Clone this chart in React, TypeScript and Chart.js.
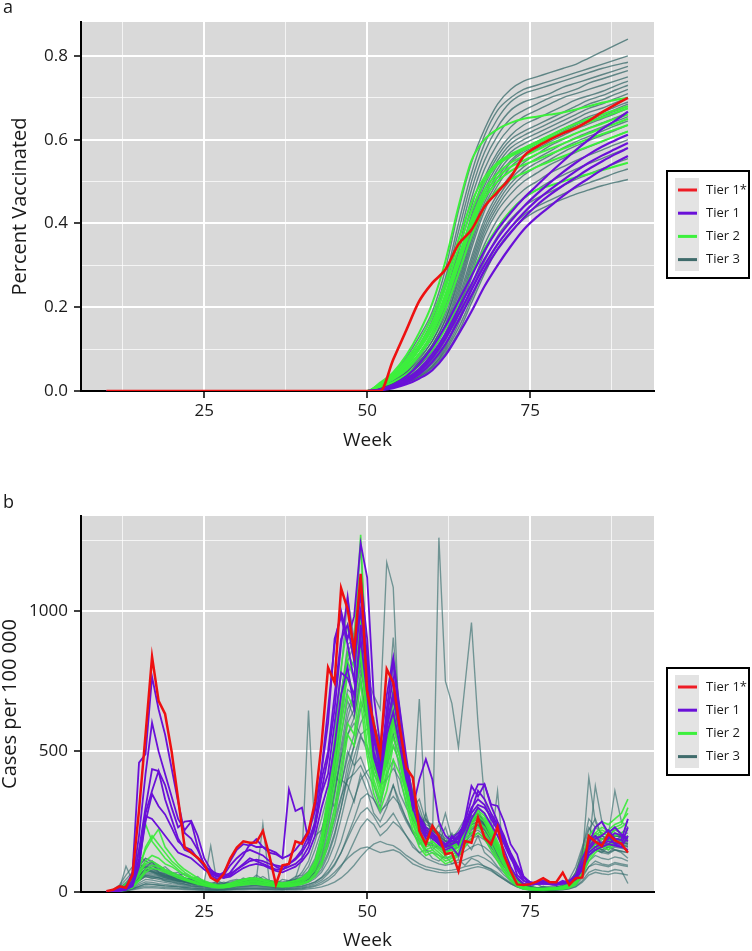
import React, { useEffect, useRef } from "react";
import { Chart, registerables } from "chart.js";

Chart.register(...registerables);

const FONT = "'Open Sans', 'Noto Sans', 'DejaVu Sans', sans-serif";
const INK = "#1a1a1a";
const PANEL_BG = "#d9d9d9";

// ---------- axes ----------
const xMin = 6.1;
const xMax = 94.0;
const xTicks = [12.5, 25, 37.5, 50, 62.5, 75, 87.5];
const xTickLabels = ["", "25", "", "50", "", "75", ""];

const yTicksA = [0, 0.1, 0.2, 0.3, 0.4, 0.5, 0.6, 0.7, 0.8];
const yTickLabelsA = ["0.0", "", "0.2", "", "0.4", "", "0.6", "", "0.8"];
const yMaxA = 0.881;

const yTicksB = [0, 250, 500, 750, 1000, 1250];
const yTickLabelsB = ["0", "", "500", "", "1000", ""];
const yMaxB = 1337;

const legendLabels = ["Tier 1*", "Tier 1", "Tier 2", "Tier 3"];
const legendColors = ["#ee1c25", "#6a10d8", "#3cf03c", "#3f6b6b"];

// ---------- panel a : percent vaccinated ----------
const weeksA = [10, 50, 52, 54, 56, 58, 60, 62, 64, 66, 68, 70, 72, 74, 76, 78, 80, 82, 84, 86, 88, 90];

const tier1sA = [
  [0, 0, 0, 0.075, 0.145, 0.215, 0.258, 0.29, 0.35, 0.385, 0.44, 0.475, 0.51, 0.56, 0.583, 0.6, 0.615, 0.628, 0.645, 0.665, 0.683, 0.7],
];

const tier1A = [
  [0, 0, 0.004, 0.015, 0.035, 0.065, 0.105, 0.155, 0.215, 0.275, 0.335, 0.385, 0.425, 0.46, 0.49, 0.52, 0.548, 0.575, 0.6, 0.625, 0.645, 0.667],
  [0, 0, 0.003, 0.012, 0.028, 0.052, 0.088, 0.135, 0.195, 0.255, 0.315, 0.365, 0.405, 0.44, 0.47, 0.497, 0.522, 0.545, 0.565, 0.583, 0.598, 0.612],
  [0, 0, 0.003, 0.01, 0.024, 0.046, 0.08, 0.125, 0.182, 0.242, 0.3, 0.35, 0.39, 0.425, 0.455, 0.48, 0.503, 0.525, 0.545, 0.562, 0.577, 0.592],
  [0, 0, 0.002, 0.009, 0.02, 0.04, 0.07, 0.112, 0.168, 0.228, 0.288, 0.338, 0.378, 0.413, 0.443, 0.468, 0.49, 0.51, 0.53, 0.548, 0.565, 0.58],
  [0, 0, 0.002, 0.007, 0.016, 0.03, 0.05, 0.085, 0.135, 0.19, 0.25, 0.3, 0.345, 0.385, 0.415, 0.44, 0.465, 0.488, 0.508, 0.528, 0.545, 0.561],
];

const tier2A = [
  [0, 0, 0.02, 0.045, 0.085, 0.14, 0.21, 0.31, 0.44, 0.55, 0.6, 0.625, 0.64, 0.65, 0.655, 0.66, 0.665, 0.672, 0.68, 0.688, 0.695, 0.7],
  [0, 0, 0.018, 0.04, 0.075, 0.12, 0.18, 0.26, 0.36, 0.45, 0.51, 0.545, 0.565, 0.58, 0.595, 0.61, 0.625, 0.638, 0.65, 0.66, 0.67, 0.68],
  [0, 0, 0.018, 0.04, 0.07, 0.11, 0.165, 0.245, 0.34, 0.43, 0.5, 0.54, 0.56, 0.575, 0.59, 0.605, 0.618, 0.63, 0.642, 0.653, 0.664, 0.675],
  [0, 0, 0.016, 0.035, 0.065, 0.105, 0.155, 0.23, 0.32, 0.41, 0.48, 0.52, 0.545, 0.56, 0.575, 0.59, 0.602, 0.615, 0.627, 0.638, 0.65, 0.66],
  [0, 0, 0.015, 0.033, 0.06, 0.1, 0.15, 0.22, 0.31, 0.4, 0.47, 0.51, 0.535, 0.55, 0.565, 0.578, 0.59, 0.603, 0.615, 0.627, 0.638, 0.65],
  [0, 0, 0.014, 0.03, 0.055, 0.09, 0.14, 0.21, 0.3, 0.39, 0.46, 0.5, 0.525, 0.54, 0.552, 0.565, 0.578, 0.59, 0.602, 0.613, 0.624, 0.635],
  [0, 0, 0.012, 0.028, 0.05, 0.085, 0.13, 0.195, 0.28, 0.37, 0.44, 0.48, 0.505, 0.52, 0.535, 0.548, 0.56, 0.572, 0.584, 0.596, 0.608, 0.62],
  [0, 0, 0.01, 0.022, 0.04, 0.065, 0.1, 0.15, 0.21, 0.28, 0.34, 0.39, 0.43, 0.46, 0.48, 0.49, 0.5, 0.51, 0.518, 0.527, 0.536, 0.545],
];

const tier3A = [
  [0, 0, 0.015, 0.04, 0.08, 0.13, 0.19, 0.29, 0.43, 0.545, 0.625, 0.685, 0.72, 0.74, 0.75, 0.76, 0.77, 0.78, 0.795, 0.81, 0.825, 0.84],
  [0, 0, 0.015, 0.035, 0.07, 0.12, 0.18, 0.27, 0.4, 0.52, 0.61, 0.67, 0.7, 0.72, 0.73, 0.74, 0.75, 0.76, 0.77, 0.78, 0.79, 0.8],
  [0, 0, 0.012, 0.03, 0.065, 0.11, 0.17, 0.26, 0.38, 0.5, 0.59, 0.65, 0.69, 0.71, 0.72, 0.73, 0.74, 0.75, 0.76, 0.77, 0.778, 0.785],
  [0, 0, 0.012, 0.03, 0.06, 0.1, 0.16, 0.25, 0.36, 0.48, 0.57, 0.63, 0.67, 0.69, 0.7, 0.71, 0.725, 0.735, 0.745, 0.755, 0.765, 0.775],
  [0, 0, 0.01, 0.03, 0.06, 0.1, 0.15, 0.23, 0.34, 0.46, 0.55, 0.61, 0.65, 0.67, 0.685, 0.7, 0.71, 0.72, 0.735, 0.745, 0.755, 0.765],
  [0, 0, 0.01, 0.028, 0.055, 0.09, 0.14, 0.22, 0.33, 0.44, 0.53, 0.59, 0.63, 0.655, 0.67, 0.685, 0.7, 0.71, 0.72, 0.73, 0.74, 0.75],
  [0, 0, 0.01, 0.025, 0.05, 0.085, 0.13, 0.21, 0.31, 0.42, 0.51, 0.57, 0.61, 0.635, 0.65, 0.665, 0.68, 0.695, 0.705, 0.715, 0.728, 0.74],
  [0, 0, 0.01, 0.025, 0.05, 0.085, 0.13, 0.2, 0.3, 0.41, 0.5, 0.56, 0.6, 0.62, 0.635, 0.65, 0.665, 0.68, 0.695, 0.705, 0.718, 0.73],
  [0, 0, 0.01, 0.022, 0.045, 0.08, 0.12, 0.19, 0.29, 0.4, 0.49, 0.55, 0.59, 0.61, 0.625, 0.64, 0.655, 0.67, 0.685, 0.695, 0.708, 0.72],
  [0, 0, 0.01, 0.022, 0.045, 0.075, 0.12, 0.18, 0.28, 0.39, 0.48, 0.54, 0.58, 0.6, 0.615, 0.63, 0.645, 0.66, 0.675, 0.685, 0.698, 0.71],
  [0, 0, 0.008, 0.02, 0.04, 0.07, 0.11, 0.17, 0.27, 0.38, 0.47, 0.53, 0.57, 0.59, 0.605, 0.62, 0.635, 0.65, 0.665, 0.675, 0.688, 0.7],
  [0, 0, 0.008, 0.02, 0.04, 0.07, 0.11, 0.17, 0.26, 0.37, 0.46, 0.52, 0.56, 0.58, 0.595, 0.61, 0.625, 0.64, 0.655, 0.665, 0.678, 0.69],
  [0, 0, 0.008, 0.02, 0.038, 0.065, 0.1, 0.16, 0.25, 0.36, 0.45, 0.51, 0.55, 0.575, 0.59, 0.605, 0.62, 0.635, 0.648, 0.66, 0.672, 0.685],
  [0, 0, 0.008, 0.018, 0.036, 0.062, 0.1, 0.155, 0.24, 0.35, 0.44, 0.5, 0.545, 0.57, 0.585, 0.6, 0.615, 0.63, 0.643, 0.655, 0.668, 0.68],
  [0, 0, 0.008, 0.018, 0.035, 0.06, 0.095, 0.15, 0.23, 0.34, 0.43, 0.49, 0.535, 0.56, 0.578, 0.595, 0.61, 0.625, 0.638, 0.65, 0.662, 0.675],
  [0, 0, 0.007, 0.016, 0.032, 0.055, 0.09, 0.14, 0.22, 0.32, 0.41, 0.47, 0.515, 0.545, 0.565, 0.585, 0.6, 0.615, 0.628, 0.64, 0.652, 0.665],
  [0, 0, 0.007, 0.016, 0.03, 0.052, 0.085, 0.135, 0.21, 0.31, 0.4, 0.46, 0.505, 0.535, 0.555, 0.572, 0.59, 0.605, 0.618, 0.63, 0.643, 0.655],
  [0, 0, 0.006, 0.015, 0.03, 0.05, 0.08, 0.13, 0.2, 0.3, 0.39, 0.45, 0.495, 0.525, 0.545, 0.562, 0.58, 0.595, 0.608, 0.62, 0.633, 0.645],
  [0, 0, 0.006, 0.015, 0.028, 0.048, 0.078, 0.125, 0.195, 0.29, 0.38, 0.44, 0.485, 0.515, 0.535, 0.552, 0.57, 0.585, 0.598, 0.61, 0.622, 0.635],
  [0, 0, 0.006, 0.014, 0.027, 0.045, 0.075, 0.12, 0.19, 0.28, 0.37, 0.43, 0.47, 0.5, 0.52, 0.54, 0.555, 0.57, 0.583, 0.595, 0.608, 0.62],
  [0, 0, 0.005, 0.013, 0.025, 0.042, 0.07, 0.11, 0.18, 0.27, 0.35, 0.41, 0.45, 0.48, 0.5, 0.52, 0.535, 0.55, 0.563, 0.575, 0.588, 0.6],
  [0, 0, 0.005, 0.012, 0.024, 0.04, 0.065, 0.105, 0.17, 0.25, 0.33, 0.39, 0.43, 0.46, 0.48, 0.5, 0.515, 0.53, 0.543, 0.555, 0.568, 0.58],
  [0, 0, 0.005, 0.012, 0.022, 0.038, 0.06, 0.1, 0.16, 0.24, 0.31, 0.37, 0.41, 0.44, 0.46, 0.475, 0.49, 0.505, 0.518, 0.53, 0.543, 0.555],
  [0, 0, 0.004, 0.01, 0.02, 0.035, 0.058, 0.095, 0.15, 0.22, 0.29, 0.35, 0.39, 0.42, 0.44, 0.455, 0.47, 0.485, 0.497, 0.508, 0.52, 0.53],
  [0, 0, 0.004, 0.01, 0.02, 0.033, 0.055, 0.09, 0.14, 0.21, 0.28, 0.34, 0.38, 0.41, 0.43, 0.445, 0.458, 0.47, 0.48, 0.49, 0.498, 0.505],
];

// ---------- panel b : cases per 100 000 ----------
const weeksB = [
  10, 11, 12, 13, 14, 15, 16, 17, 18, 19,
  20, 21, 22, 23, 24, 25, 26, 27, 28, 29,
  30, 31, 32, 33, 34, 35, 36, 37, 38, 39,
  40, 41, 42, 43, 44, 45, 46, 47, 48, 49,
  50, 51, 52, 53, 54, 55, 56, 57, 58, 59,
  60, 61, 62, 63, 64, 65, 66, 67, 68, 69,
  70, 71, 72, 73, 74, 75, 76, 77, 78, 79,
  80, 81, 82, 83, 84, 85, 86, 87, 88, 89,
  90,
];

const tier1sB = [
  [
    3, 8, 20, 15, 62, 290, 560, 836, 680, 633,
    500, 330, 160, 140, 122, 99, 51, 38, 65, 120,
    158, 180, 175, 176, 217, 130, 27, 95, 100, 180,
    172, 215, 320, 525, 798, 745, 1080, 1006, 855, 1131,
    715, 597, 490, 792, 745, 585, 442, 407, 217, 170,
    235, 199, 134, 140, 75, 181, 175, 264, 193, 170,
    232, 130, 75, 27, 25, 28, 37, 49, 35, 35,
    69, 25, 49, 52, 199, 179, 164, 207, 184, 172,
    140,
  ],
];

const tier1B = [
  [
    2, 5, 10, 20, 70, 460, 490, 765, 650, 560,
    440, 320, 210, 190, 150, 100, 60, 45, 60, 95,
    120, 140, 150, 140, 130, 110, 90, 80, 100, 120,
    150, 200, 300, 430, 600, 900, 980, 880, 750, 1120,
    900, 560, 430, 650, 820, 600, 420, 300, 230, 190,
    200, 170, 150, 160, 130, 200, 260, 300, 280, 240,
    200, 150, 90, 50, 30, 25, 30, 35, 30, 28,
    40, 30, 50, 80, 180, 200, 170, 190, 210, 200,
    180,
  ],
  [
    0, 4, 8, 15, 40, 200, 420, 602, 500, 420,
    340, 260, 220, 250, 160, 90, 70, 55, 70, 110,
    150, 170, 165, 188, 160, 150, 140, 120, 130, 150,
    180, 220, 290, 437, 650, 880, 1000, 900, 980, 1240,
    1118, 700, 520, 700, 834, 650, 480, 330, 250, 200,
    210, 180, 160, 200, 170, 250, 330, 383, 383, 306,
    250, 200, 134, 60, 40, 30, 35, 40, 35, 30,
    35, 40, 60, 120, 170, 230, 250, 210, 230, 205,
    190,
  ],
  [
    0, 3, 6, 12, 30, 150, 300, 437, 430, 380,
    300, 230, 250, 253, 200, 120, 80, 60, 50, 70,
    100, 130, 170, 160, 160, 140, 134, 120, 365, 288,
    300, 180, 250, 400, 500, 700, 900, 950, 820, 1000,
    800, 540, 450, 600, 700, 560, 430, 300, 400, 472,
    400, 250, 200, 180, 190, 260, 377, 340, 383, 312,
    306, 250, 170, 134, 53, 30, 30, 30, 28, 25,
    30, 35, 50, 100, 150, 180, 160, 200, 170, 160,
    200,
  ],
  [
    0, 2, 5, 10, 25, 100, 250, 348, 305, 276,
    230, 180, 160, 150, 120, 90, 70, 60, 55, 60,
    80, 100, 120, 110, 100, 90, 80, 80, 90, 100,
    120, 160, 230, 350, 420, 600, 780, 760, 700, 900,
    700, 480, 400, 560, 640, 520, 400, 320, 260, 220,
    200, 180, 170, 190, 210, 240, 300, 330, 310, 260,
    220, 170, 120, 80, 40, 30, 28, 30, 30, 28,
    30, 32, 45, 90, 140, 160, 170, 180, 175, 170,
    230,
  ],
  [
    0, 2, 4, 8, 20, 90, 270, 260, 230, 200,
    170, 140, 130, 120, 100, 80, 65, 55, 50, 55,
    70, 85, 95, 100, 95, 85, 75, 70, 80, 90,
    110, 140, 200, 300, 380, 520, 700, 800, 650, 950,
    760, 500, 420, 580, 700, 560, 420, 330, 260, 210,
    190, 170, 160, 170, 180, 220, 280, 310, 300, 270,
    230, 180, 130, 90, 50, 35, 30, 30, 30, 30,
    32, 35, 45, 80, 130, 150, 160, 170, 165, 160,
    150,
  ],
  [
    0, 2, 4, 8, 25, 120, 280, 360, 430, 330,
    260, 190, 150, 140, 120, 95, 75, 65, 60, 65,
    80, 95, 110, 115, 110, 100, 95, 90, 100, 115,
    140, 180, 240, 360, 480, 650, 880, 1050, 850, 1060,
    840, 560, 460, 620, 760, 580, 430, 340, 270, 230,
    210, 190, 170, 180, 200, 230, 290, 360, 330, 280,
    240, 190, 140, 95, 55, 35, 30, 32, 30, 30,
    35, 38, 55, 95, 160, 190, 200, 220, 190, 185,
    260,
  ],
];

const tier2B = [
  [
    0, 3, 10, 30, 60, 150, 241, 180, 150, 120,
    100, 80, 60, 50, 40, 30, 25, 20, 25, 30,
    40, 45, 50, 48, 40, 35, 30, 30, 35, 40,
    50, 70, 110, 200, 350, 550, 800, 950, 880, 1270,
    750, 500, 400, 520, 650, 560, 420, 300, 220, 180,
    200, 170, 150, 160, 180, 220, 260, 300, 280, 230,
    180, 130, 80, 40, 20, 15, 12, 12, 15, 15,
    20, 30, 60, 120, 200, 230, 250, 240, 260, 280,
    330,
  ],
  [
    0, 2, 8, 20, 40, 90, 150, 190, 223, 160,
    130, 100, 80, 65, 50, 40, 30, 25, 25, 30,
    35, 40, 45, 45, 40, 35, 30, 28, 30, 35,
    45, 60, 100, 180, 320, 500, 700, 850, 800, 1000,
    700, 480, 380, 500, 620, 540, 400, 290, 210, 170,
    180, 160, 140, 150, 170, 210, 250, 290, 270, 220,
    170, 120, 70, 35, 18, 14, 12, 12, 12, 14,
    18, 25, 50, 100, 170, 210, 230, 220, 240, 250,
    280,
  ],
  [
    0, 2, 6, 15, 30, 70, 110, 130, 120, 100,
    90, 75, 60, 50, 40, 30, 25, 20, 20, 25,
    30, 35, 40, 40, 35, 30, 28, 25, 28, 30,
    40, 55, 90, 160, 280, 420, 600, 780, 700, 900,
    620, 430, 350, 460, 580, 500, 370, 270, 200, 160,
    170, 150, 130, 140, 160, 200, 240, 270, 250, 200,
    150, 100, 60, 30, 15, 12, 10, 10, 10, 12,
    15, 20, 40, 90, 150, 190, 210, 200, 220, 230,
    250,
  ],
  [
    0, 2, 5, 12, 25, 60, 100, 110, 95, 80,
    70, 60, 50, 40, 35, 28, 22, 18, 18, 22,
    28, 32, 36, 36, 32, 28, 25, 22, 25, 28,
    35, 50, 80, 140, 240, 380, 560, 700, 650, 850,
    580, 400, 330, 430, 550, 480, 350, 250, 190, 150,
    160, 140, 120, 130, 150, 190, 230, 250, 230, 190,
    140, 95, 55, 28, 14, 10, 9, 9, 10, 11,
    14, 18, 35, 80, 140, 170, 190, 180, 200, 210,
    220,
  ],
  [
    0, 1, 4, 10, 20, 45, 80, 95, 90, 75,
    65, 55, 45, 38, 30, 25, 20, 16, 16, 20,
    25, 28, 32, 32, 28, 25, 22, 20, 22, 25,
    30, 40, 65, 110, 190, 300, 450, 600, 560, 750,
    520, 380, 320, 400, 520, 460, 340, 240, 180, 140,
    150, 130, 110, 120, 140, 180, 210, 230, 210, 170,
    120, 80, 45, 22, 12, 9, 8, 8, 9, 10,
    12, 16, 30, 70, 120, 150, 170, 160, 180, 190,
    200,
  ],
  [
    0, 2, 6, 14, 28, 80, 160, 200, 170, 140,
    110, 90, 70, 55, 45, 35, 28, 22, 22, 28,
    35, 40, 48, 50, 45, 40, 35, 32, 35, 40,
    48, 65, 100, 170, 300, 460, 650, 820, 760, 950,
    660, 460, 370, 480, 600, 520, 390, 280, 210, 170,
    180, 160, 140, 150, 170, 210, 250, 280, 260, 210,
    160, 110, 65, 32, 16, 12, 11, 11, 12, 13,
    16, 22, 45, 95, 160, 200, 220, 210, 230, 240,
    300,
  ],
  [
    0, 1, 3, 8, 15, 40, 70, 85, 80, 70,
    60, 50, 42, 35, 28, 22, 18, 15, 15, 18,
    22, 25, 28, 28, 25, 22, 20, 18, 20, 22,
    28, 36, 55, 95, 170, 270, 400, 560, 520, 680,
    480, 350, 290, 360, 470, 420, 310, 220, 160, 130,
    140, 120, 100, 110, 130, 160, 190, 210, 190, 150,
    110, 70, 40, 20, 10, 8, 7, 7, 8, 9,
    10, 14, 25, 60, 110, 140, 160, 150, 170, 180,
    190,
  ],
];

const tier3B = [
  [
    0, 5, 15, 30, 50, 90, 120, 110, 95, 80,
    70, 60, 50, 45, 40, 35, 164, 28, 30, 35,
    40, 45, 50, 50, 45, 40, 38, 36, 40, 45,
    55, 75, 120, 200, 330, 500, 700, 850, 900, 1230,
    800, 560, 450, 600, 800, 650, 450, 320, 240, 190,
    200, 180, 160, 170, 190, 230, 260, 280, 250, 200,
    150, 110, 70, 40, 20, 15, 12, 12, 14, 15,
    20, 30, 70, 150, 260, 230, 210, 200, 220, 210,
    230,
  ],
  [
    0, 3, 10, 20, 35, 60, 80, 75, 65, 55,
    50, 45, 40, 35, 30, 25, 22, 20, 22, 25,
    30, 35, 38, 38, 35, 30, 28, 26, 30, 35,
    45, 60, 90, 150, 240, 360, 500, 620, 700, 820,
    760, 700, 650, 1172, 1083, 550, 420, 330, 260, 210,
    220, 200, 170, 180, 200, 240, 270, 280, 240, 200,
    160, 120, 80, 45, 25, 18, 15, 14, 15, 16,
    20, 30, 60, 120, 200, 180, 160, 170, 190, 180,
    170,
  ],
  [
    0, 2, 8, 15, 25, 45, 60, 55, 50, 45,
    40, 35, 30, 28, 25, 22, 20, 18, 20, 22,
    25, 28, 30, 30, 28, 25, 23, 22, 25, 28,
    35, 45, 70, 110, 180, 270, 380, 480, 560, 680,
    620, 500, 430, 520, 650, 560, 440, 360, 300, 230,
    170, 1260, 750, 670, 514, 736, 958, 600, 330, 250,
    150, 110, 70, 40, 20, 15, 12, 12, 13, 15,
    18, 25, 50, 100, 170, 160, 150, 160, 170, 165,
    160,
  ],
  [
    0, 4, 12, 92, 40, 70, 90, 80, 70, 60,
    55, 48, 40, 35, 30, 26, 22, 20, 22, 26,
    32, 36, 40, 40, 36, 32, 30, 28, 32, 36,
    42, 55, 80, 130, 220, 340, 480, 600, 650, 780,
    700, 560, 480, 560, 640, 520, 400, 320, 686, 260,
    230, 210, 180, 170, 190, 220, 250, 260, 230, 190,
    150, 110, 75, 45, 25, 18, 14, 13, 14, 16,
    20, 28, 55, 110, 190, 200, 180, 170, 190, 185,
    180,
  ],
  [
    0, 3, 10, 18, 30, 55, 75, 70, 60, 52,
    46, 40, 35, 32, 28, 24, 20, 18, 20, 24,
    28, 32, 36, 36, 32, 30, 28, 26, 40, 50,
    120, 645, 200, 220, 300, 400, 520, 650, 700, 850,
    720, 580, 500, 580, 680, 560, 440, 340, 270, 220,
    210, 190, 170, 160, 180, 210, 240, 250, 220, 180,
    140, 100, 65, 38, 20, 14, 12, 12, 13, 15,
    18, 26, 50, 100, 170, 160, 150, 160, 175, 170,
    160,
  ],
  [
    0, 3, 10, 20, 35, 60, 80, 72, 62, 55,
    48, 42, 36, 32, 28, 24, 20, 18, 20, 24,
    28, 32, 35, 35, 32, 28, 26, 25, 28, 32,
    40, 55, 90, 160, 300, 520, 780, 1047, 900, 1000,
    760, 560, 460, 580, 720, 580, 440, 330, 260, 210,
    200, 180, 160, 170, 190, 230, 260, 270, 240, 195,
    150, 110, 70, 40, 22, 16, 13, 12, 14, 15,
    18, 28, 55, 110, 180, 200, 190, 180, 200, 195,
    190,
  ],
  [
    0, 2, 8, 15, 28, 50, 65, 60, 55, 50,
    45, 40, 35, 30, 26, 22, 20, 18, 19, 22,
    26, 30, 32, 32, 30, 27, 25, 24, 26, 30,
    36, 48, 75, 120, 200, 300, 430, 560, 620, 760,
    600, 480, 420, 600, 905, 620, 460, 350, 280, 230,
    220, 200, 180, 190, 200, 230, 260, 270, 240, 200,
    160, 120, 80, 45, 25, 18, 15, 14, 15, 17,
    20, 30, 60, 120, 407, 250, 200, 180, 190, 185,
    175,
  ],
  [
    0, 2, 6, 12, 22, 40, 55, 50, 45, 40,
    36, 32, 28, 25, 22, 20, 18, 16, 17, 20,
    23, 26, 28, 28, 26, 24, 22, 21, 23, 26,
    30, 40, 55, 80, 130, 200, 300, 420, 520, 650,
    700, 600, 520, 560, 620, 540, 420, 330, 270, 230,
    220, 200, 180, 180, 190, 210, 230, 240, 220, 190,
    150, 110, 75, 45, 25, 18, 14, 13, 14, 16,
    20, 28, 50, 100, 160, 377, 250, 200, 360, 250,
    230,
  ],
  [
    0, 2, 5, 10, 18, 32, 45, 42, 38, 34,
    30, 27, 24, 21, 19, 17, 15, 14, 15, 17,
    20, 22, 24, 24, 22, 20, 19, 18, 20, 22,
    26, 34, 48, 70, 110, 170, 260, 360, 440, 550,
    520, 450, 400, 450, 520, 460, 360, 290, 240, 200,
    190, 175, 160, 160, 170, 190, 210, 220, 200, 170,
    359, 95, 65, 40, 22, 16, 13, 12, 13, 15,
    18, 25, 45, 90, 150, 170, 160, 150, 165, 160,
    150,
  ],
  [
    0, 1, 4, 8, 15, 26, 36, 34, 30, 27,
    24, 22, 20, 18, 16, 14, 12, 11, 12, 14,
    16, 18, 20, 20, 18, 17, 16, 15, 16, 18,
    20, 26, 36, 52, 80, 120, 180, 260, 330, 400,
    430, 450, 380, 400, 440, 400, 320, 260, 210, 180,
    170, 160, 150, 150, 160, 175, 190, 200, 185, 160,
    125, 90, 60, 36, 20, 14, 11, 10, 11, 13,
    15, 22, 40, 80, 130, 150, 140, 135, 150, 145,
    140,
  ],
  [
    0, 1, 3, 6, 12, 20, 28, 26, 24, 22,
    20, 18, 16, 14, 13, 12, 10, 9, 10, 12,
    13, 15, 16, 16, 15, 14, 13, 12, 13, 15,
    17, 22, 30, 42, 65, 95, 140, 200, 260, 330,
    350, 330, 290, 310, 340, 310, 260, 210, 180, 150,
    140, 130, 120, 125, 130, 145, 160, 170, 160, 140,
    110, 80, 55, 32, 18, 12, 10, 9, 10, 11,
    13, 18, 32, 65, 110, 130, 120, 115, 125, 120,
    110,
  ],
  [
    0, 1, 2, 5, 10, 16, 22, 20, 18, 16,
    15, 13, 12, 10, 9, 8, 7, 7, 8, 9,
    10, 11, 12, 12, 11, 10, 10, 9, 10, 11,
    12, 15, 20, 28, 42, 60, 90, 130, 180, 230,
    260, 240, 200, 220, 250, 230, 200, 170, 140, 120,
    110, 100, 95, 100, 105, 115, 125, 130, 120, 105,
    85, 60, 40, 24, 14, 9, 8, 7, 8, 9,
    10, 14, 25, 50, 90, 100, 95, 90, 100, 95,
    90,
  ],
  [
    0, 4, 12, 25, 45, 80, 110, 100, 85, 72,
    62, 54, 46, 40, 35, 30, 26, 24, 26, 30,
    36, 40, 44, 44, 241, 36, 34, 32, 36, 40,
    50, 70, 110, 180, 300, 450, 600, 720, 700, 800,
    650, 500, 420, 520, 640, 540, 420, 320, 250, 200,
    190, 175, 160, 165, 180, 210, 240, 250, 225, 185,
    140, 100, 65, 38, 20, 15, 12, 11, 12, 14,
    17, 25, 48, 95, 165, 180, 175, 170, 185, 180,
    170,
  ],
  [
    0, 3, 9, 18, 32, 58, 78, 72, 64, 56,
    50, 44, 38, 34, 30, 26, 22, 20, 22, 26,
    30, 34, 37, 37, 34, 30, 28, 27, 30, 34,
    42, 56, 85, 140, 240, 360, 480, 560, 600, 560,
    500, 420, 380, 460, 560, 480, 380, 300, 240, 200,
    190, 175, 160, 160, 175, 200, 225, 235, 210, 175,
    135, 98, 65, 38, 20, 15, 12, 11, 12, 14,
    17, 24, 46, 92, 160, 175, 165, 160, 175, 170,
    165,
  ],
  [
    0, 3, 10, 20, 36, 62, 82, 76, 66, 58,
    52, 46, 40, 35, 31, 27, 23, 21, 23, 27,
    31, 35, 39, 39, 36, 32, 30, 28, 32, 36,
    45, 60, 95, 160, 280, 430, 620, 780, 820, 950,
    780, 580, 470, 580, 720, 580, 440, 330, 260, 210,
    200, 185, 165, 170, 190, 225, 255, 265, 235, 195,
    150, 110, 70, 42, 22, 16, 13, 12, 13, 15,
    18, 27, 52, 105, 180, 200, 190, 185, 200, 195,
    185,
  ],
  [
    0, 1, 2, 4, 8, 12, 16, 15, 14, 12,
    11, 10, 9, 8, 7, 6, 6, 5, 6, 7,
    8, 8, 9, 9, 8, 8, 7, 7, 8, 8,
    9, 11, 14, 18, 25, 35, 50, 70, 95, 125,
    150, 170, 180, 170, 165, 150, 130, 115, 100, 90,
    85, 80, 75, 78, 82, 90, 95, 100, 92, 82,
    68, 50, 34, 20, 12, 8, 6, 6, 7, 8,
    9, 12, 20, 40, 70, 80, 75, 72, 80, 76,
    30,
  ],
  [
    0, 6, 20, 45, 70, 100, 85, 110, 70, 65,
    50, 55, 40, 48, 30, 35, 25, 40, 30, 28,
    35, 50, 40, 60, 45, 38, 30, 45, 40, 55,
    60, 90, 150, 220, 310, 420, 380, 500, 450, 480,
    420, 380, 300, 420, 470, 350, 300, 260, 220, 280,
    200, 240, 180, 210, 160, 230, 200, 260, 190, 150,
    120, 90, 60, 40, 22, 18, 30, 15, 20, 25,
    30, 45, 90, 160, 230, 190, 170, 210, 180, 200,
    210,
  ],
  [
    0, 8, 25, 60, 90, 130, 110, 95, 80, 90,
    70, 60, 65, 50, 45, 38, 32, 35, 30, 40,
    45, 38, 50, 42, 55, 40, 35, 30, 38, 45,
    70, 110, 180, 260, 350, 300, 400, 380, 320, 420,
    360, 280, 250, 300, 380, 300, 250, 210, 170, 190,
    150, 170, 130, 160, 120, 180, 150, 200, 140, 120,
    90, 70, 45, 30, 15, 12, 10, 20, 12, 15,
    25, 35, 70, 130, 180, 150, 140, 160, 150, 140,
    120,
  ],
  [
    0, 3, 12, 28, 50, 75, 95, 85, 70, 60,
    55, 45, 50, 38, 32, 28, 25, 30, 22, 26,
    30, 28, 40, 35, 30, 42, 30, 25, 30, 35,
    38, 50, 70, 100, 160, 240, 330, 450, 520, 600,
    650, 620, 480, 500, 560, 430, 350, 280, 230, 260,
    210, 180, 230, 160, 200, 170, 220, 240, 200, 160,
    130, 100, 70, 45, 25, 15, 12, 10, 12, 18,
    22, 30, 55, 100, 150, 170, 150, 140, 160, 155,
    150,
  ],
  [
    0, 2, 6, 14, 25, 40, 55, 48, 52, 40,
    35, 30, 28, 22, 20, 18, 15, 18, 14, 16,
    18, 20, 22, 25, 20, 18, 16, 15, 18, 20,
    22, 28, 35, 50, 70, 100, 140, 190, 240, 280,
    300, 270, 230, 250, 280, 240, 200, 160, 140, 150,
    120, 110, 130, 100, 115, 95, 120, 110, 90, 80,
    60, 45, 30, 18, 10, 8, 6, 5, 6, 8,
    10, 15, 28, 60, 90, 110, 100, 95, 105, 100,
    95,
  ],
  [
    0, 5, 15, 35, 60, 95, 120, 105, 90, 75,
    65, 70, 50, 45, 55, 35, 30, 28, 35, 30,
    38, 45, 42, 48, 40, 35, 33, 30, 35, 42,
    50, 65, 100, 160, 260, 400, 560, 680, 620, 750,
    600, 450, 380, 480, 620, 500, 380, 300, 330, 250,
    240, 200, 280, 190, 220, 260, 240, 300, 230, 190,
    160, 120, 80, 50, 28, 18, 14, 20, 15, 18,
    22, 35, 65, 140, 220, 260, 200, 190, 230, 200,
    195,
  ],
  [
    0, 4, 14, 28, 48, 82, 100, 92, 80, 68,
    60, 52, 45, 40, 36, 30, 28, 25, 26, 30,
    35, 38, 42, 40, 38, 34, 32, 30, 34, 38,
    48, 65, 100, 170, 300, 480, 700, 880, 900, 820,
    650, 480, 400, 500, 640, 520, 400, 320, 260, 220,
    210, 190, 170, 175, 195, 220, 250, 255, 230, 190,
    145, 105, 70, 42, 22, 15, 12, 11, 13, 15,
    18, 26, 50, 100, 170, 180, 175, 165, 180, 175,
    170,
  ],
  [
    0, 2, 7, 14, 26, 45, 60, 55, 50, 46,
    42, 38, 34, 30, 27, 24, 21, 19, 21, 24,
    27, 30, 33, 33, 30, 28, 26, 25, 27, 30,
    35, 45, 60, 90, 140, 210, 300, 400, 480, 560,
    580, 600, 520, 540, 600, 500, 400, 320, 270, 240,
    230, 210, 190, 200, 210, 240, 270, 280, 250, 210,
    170, 125, 85, 50, 28, 20, 15, 14, 15, 17,
    20, 30, 58, 115, 190, 210, 200, 190, 205, 200,
    195,
  ],
  [
    0, 1, 3, 7, 12, 20, 30, 28, 25, 22,
    20, 18, 16, 14, 12, 10, 9, 8, 9, 10,
    11, 12, 13, 13, 12, 11, 10, 10, 11, 12,
    14, 18, 24, 35, 50, 70, 95, 120, 140, 155,
    160, 150, 140, 145, 150, 140, 120, 100, 90, 80,
    75, 70, 68, 70, 72, 78, 85, 90, 85, 75,
    60, 45, 30, 18, 10, 7, 6, 5, 6, 7,
    8, 11, 18, 35, 60, 70, 65, 62, 68, 65,
    60,
  ],
  [
    0, 3, 9, 18, 30, 50, 70, 65, 58, 50,
    45, 40, 36, 32, 28, 25, 22, 20, 22, 25,
    28, 31, 34, 34, 31, 28, 26, 25, 28, 31,
    36, 48, 70, 110, 180, 260, 340, 400, 420, 450,
    400, 330, 280, 320, 380, 320, 260, 220, 190, 170,
    165, 155, 145, 150, 160, 180, 200, 210, 195, 170,
    135, 100, 70, 42, 24, 17, 13, 12, 13, 15,
    17, 24, 44, 85, 140, 150, 145, 140, 150, 145,
    140,
  ],
  [
    0, 4, 12, 24, 42, 70, 90, 84, 74, 64,
    56, 50, 44, 38, 34, 30, 26, 24, 26, 30,
    34, 38, 42, 42, 38, 34, 32, 30, 34, 38,
    46, 62, 95, 160, 280, 440, 640, 820, 880, 1000,
    720, 520, 430, 540, 680, 560, 430, 330, 260, 210,
    200, 185, 165, 170, 190, 225, 255, 265, 235, 195,
    150, 110, 70, 42, 22, 16, 13, 12, 13, 15,
    18, 27, 52, 105, 180, 200, 190, 185, 200, 195,
    185,
  ],
];

// ---------- helpers ----------
type Group = { series: number[][]; color: string; width: number };

function buildDatasets(weeks: number[], groups: Group[], smooth: boolean) {
  const out: any[] = [];
  groups.forEach((g) =>
    g.series.forEach((s) =>
      out.push({
        data: s.map((v, i) => ({ x: weeks[i], y: v })),
        borderColor: g.color,
        borderWidth: g.width,
        pointRadius: 0,
        pointHoverRadius: 0,
        fill: false,
        tension: smooth ? 0.4 : 0,
        cubicInterpolationMode: smooth ? "monotone" : "default",
      })
    )
  );
  return out;
}

const bgPlugin = {
  id: "panelBg",
  beforeDraw(chart: any) {
    const { ctx, chartArea: a } = chart;
    ctx.save();
    ctx.fillStyle = PANEL_BG;
    ctx.fillRect(a.left, a.top, a.right - a.left, a.bottom - a.top);
    ctx.restore();
  },
};

function legendPlugin(boxTop: number) {
  return {
    id: "tierLegend",
    afterDraw(chart: any) {
      const ctx = chart.ctx;
      const x0 = chart.chartArea.right + 12;
      const y0 = boxTop;
      const w = 84;
      const h = 109;
      ctx.save();
      ctx.fillStyle = "#ffffff";
      ctx.fillRect(x0, y0, w, h);
      ctx.strokeStyle = "#000000";
      ctx.lineWidth = 2;
      ctx.strokeRect(x0 + 1, y0 + 1, w - 2, h - 2);
      ctx.fillStyle = "#e3e3e3";
      ctx.fillRect(x0 + 9, y0 + 8, 24, 93);
      legendLabels.forEach((lab, i) => {
        const y = y0 + 20 + i * 23.2;
        ctx.strokeStyle = legendColors[i];
        ctx.lineWidth = 3;
        ctx.beginPath();
        ctx.moveTo(x0 + 12, y);
        ctx.lineTo(x0 + 31, y);
        ctx.stroke();
        ctx.fillStyle = INK;
        ctx.font = `13px ${FONT}`;
        ctx.textBaseline = "middle";
        ctx.textAlign = "left";
        ctx.fillText(lab, x0 + 40, y);
      });
      ctx.restore();
    },
  };
}

type PanelOpts = {
  datasets: any[];
  yTicks: number[];
  yTickLabels: string[];
  yMax: number;
  yTitle: string;
  yTitlePad: number;
  padTop: number;
  xHeight: number;
  xTitlePadBottom: number;
  legendTop: number;
};

function makeConfig(o: PanelOpts): any {
  return {
    type: "line",
    data: { datasets: o.datasets },
    options: {
      animation: false,
      responsive: false,
      events: [],
      layout: { padding: { left: 0, right: 98, top: o.padTop, bottom: 0 } },
      plugins: { legend: { display: false }, tooltip: { enabled: false } },
      scales: {
        x: {
          type: "linear",
          min: xMin,
          max: xMax,
          bounds: "data",
          afterBuildTicks: (s: any) => {
            s.ticks = xTicks.map((v) => ({ value: v }));
          },
          afterFit: (s: any) => {
            s.height = o.xHeight;
          },
          ticks: {
            autoSkip: false,
            maxRotation: 0,
            padding: 3,
            color: INK,
            font: { family: FONT, size: 17 },
            callback: (_v: any, i: number) => xTickLabels[i],
          },
          grid: {
            color: (c: any) => (xTickLabels[c.index] ? "#ffffff" : "rgba(255,255,255,0.7)"),
            lineWidth: (c: any) => (xTickLabels[c.index] ? 2 : 1),
            tickColor: (c: any) => (xTickLabels[c.index] ? "#000000" : "rgba(0,0,0,0)"),
            tickLength: 7,
            tickWidth: 1.5,
          },
          border: { display: true, color: "#000000", width: 2 },
          title: {
            display: true,
            text: "Week",
            color: INK,
            font: { family: FONT, size: 19, lineHeight: 1 },
            padding: { top: 0, bottom: o.xTitlePadBottom },
          },
        },
        y: {
          type: "linear",
          min: 0,
          max: o.yMax,
          bounds: "data",
          afterBuildTicks: (s: any) => {
            s.ticks = o.yTicks.map((v) => ({ value: v }));
          },
          afterFit: (s: any) => {
            s.width = 81;
          },
          ticks: {
            autoSkip: false,
            padding: 6,
            color: INK,
            font: { family: FONT, size: 17 },
            callback: (_v: any, i: number) => o.yTickLabels[i],
          },
          grid: {
            color: (c: any) => (o.yTickLabels[c.index] ? "#ffffff" : "rgba(255,255,255,0.7)"),
            lineWidth: (c: any) => (o.yTickLabels[c.index] ? 2 : 1),
            tickColor: (c: any) => (o.yTickLabels[c.index] ? "#000000" : "rgba(0,0,0,0)"),
            tickLength: 7,
            tickWidth: 1.5,
          },
          border: { display: true, color: "#000000", width: 2 },
          title: {
            display: true,
            text: o.yTitle,
            color: INK,
            font: { family: FONT, size: 20, lineHeight: 1 },
            padding: { top: o.yTitlePad, bottom: 0 },
          },
        },
      },
    },
    plugins: [bgPlugin, legendPlugin(o.legendTop)],
  };
}

export default function App() {
  const refA = useRef<HTMLCanvasElement>(null);
  const refB = useRef<HTMLCanvasElement>(null);

  useEffect(() => {
    const dsA = buildDatasets(
      weeksA,
      [
        { series: tier1sA, color: "#ee1111", width: 2.6 },
        { series: tier1A, color: "#6a10d8", width: 2.2 },
        { series: tier2A, color: "#3cf03c", width: 2 },
        { series: tier3A, color: "rgba(47,100,100,0.72)", width: 1.4 },
      ],
      true
    );
    const dsB = buildDatasets(
      weeksB,
      [
        { series: tier1sB, color: "#ee1111", width: 2.5 },
        { series: tier1B, color: "#6a10d8", width: 1.8 },
        { series: tier2B, color: "rgba(55,235,55,0.9)", width: 1.6 },
        { series: tier3B, color: "rgba(47,105,105,0.62)", width: 1.35 },
      ],
      false
    );
    const a = new Chart(
      refA.current as HTMLCanvasElement,
      makeConfig({
        datasets: dsA,
        yTicks: yTicksA,
        yTickLabels: yTickLabelsA,
        yMax: yMaxA,
        yTitle: "Percent Vaccinated",
        yTitlePad: 10,
        padTop: 22,
        xHeight: 69,
        xTitlePadBottom: 10,
        legendTop: 170,
      })
    );
    const b = new Chart(
      refB.current as HTMLCanvasElement,
      makeConfig({
        datasets: dsB,
        yTicks: yTicksB,
        yTickLabels: yTickLabelsB,
        yMax: yMaxB,
        yTitle: "Cases per 100 000",
        yTitlePad: 0,
        padTop: 56,
        xHeight: 59,
        xTitlePadBottom: 1,
        legendTop: 207,
      })
    );
    return () => {
      a.destroy();
      b.destroy();
    };
  }, []);

  return (
    <div
      style={{
        position: "absolute",
        left: 0,
        top: 0,
        width: 752,
        height: 951,
        background: "#ffffff",
        fontFamily: FONT,
        overflow: "hidden",
      }}
    >
      <canvas
        ref={refA}
        width={752}
        height={460}
        style={{ position: "absolute", left: 0, top: 0, width: 752, height: 460 }}
      />
      <canvas
        ref={refB}
        width={752}
        height={491}
        style={{ position: "absolute", left: 0, top: 460, width: 752, height: 491 }}
      />
      <div style={{ position: "absolute", left: 3, top: -6, fontSize: 18, lineHeight: "24px", color: INK }}>a</div>
      <div style={{ position: "absolute", left: 3, top: 489, fontSize: 18, lineHeight: "24px", color: INK }}>b</div>
    </div>
  );
}
